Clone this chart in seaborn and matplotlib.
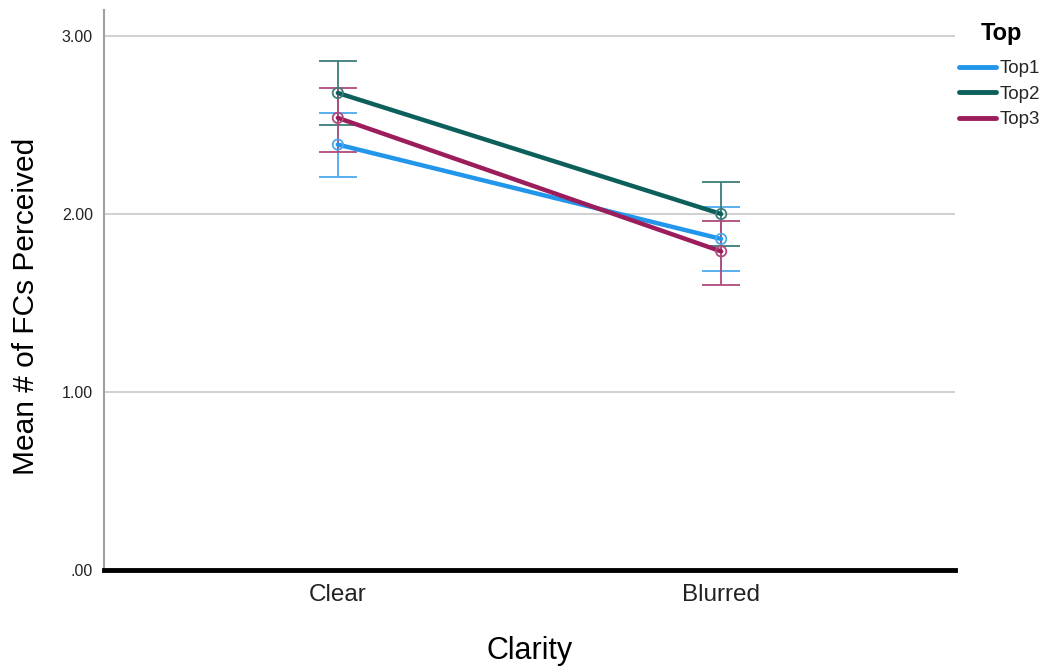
import matplotlib
matplotlib.use("Agg")
import matplotlib.pyplot as plt
import seaborn as sns
import pandas as pd
import numpy as np
from matplotlib.lines import Line2D

clarity = ["Clear", "Blurred"]
groups = ["Top1", "Top2", "Top3"]
top1_mean = [2.39, 1.86]
top2_mean = [2.68, 2.00]
top3_mean = [2.54, 1.79]
top1_lo = [2.21, 1.68]
top1_hi = [2.57, 2.04]
top2_lo = [2.50, 1.82]
top2_hi = [2.86, 2.18]
top3_lo = [2.35, 1.60]
top3_hi = [2.71, 1.96]
yticks = [0, 1, 2, 3]
ytick_labels = [".00", "1.00", "2.00", "3.00"]

colors = {"Top1": "#2196ea", "Top2": "#0c5f5a", "Top3": "#9c1d5c"}
err_colors = {"Top1": "#4aaaee", "Top2": "#3d7d79", "Top3": "#b04a7c"}
means = {"Top1": top1_mean, "Top2": top2_mean, "Top3": top3_mean}
los = {"Top1": top1_lo, "Top2": top2_lo, "Top3": top3_lo}
his = {"Top1": top1_hi, "Top2": top2_hi, "Top3": top3_hi}

rows = []
for g in groups:
    for i, c in enumerate(clarity):
        rows.append({"Clarity": c, "x": i, "Top": g, "mean": means[g][i]})
df = pd.DataFrame(rows)

sns.set_theme(style="white")
plt.rcParams['font.family'] = ['Liberation Sans', 'DejaVu Sans']

fig = plt.figure(figsize=(10.49, 6.72), dpi=100)
ax = fig.add_axes([104 / 1049, (672 - 570) / 672, (955 - 104) / 1049, (570 - 10) / 672])

for g in groups:
    m = np.array(means[g])
    lo = np.array(los[g])
    hi = np.array(his[g])
    ax.errorbar(np.arange(len(clarity)), m, yerr=[m - lo, hi - m], fmt="none",
                ecolor=err_colors[g], elinewidth=1.3, capsize=14, capthick=1.3, zorder=2)

sns.lineplot(data=df, x="x", y="mean", hue="Top", palette=colors, linewidth=3.2,
             ax=ax, legend=False, zorder=3)

for g in groups:
    sub = df[df["Top"] == g]
    ax.scatter(sub["x"], sub["mean"], s=55, facecolors="none",
               edgecolors=err_colors[g], linewidths=1.3, zorder=4)

for y in [1, 2, 3]:
    ax.axhline(y, color="#c8c8c8", linewidth=1.2, zorder=0)

ax.set_xlim(-0.61, 1.61)
ax.set_ylim(0, 3.146)
ax.set_xticks(range(len(clarity)))
ax.set_xticklabels(clarity, fontsize=17.5, color="#222222")
ax.set_yticks(yticks)
ax.set_yticklabels(ytick_labels, fontsize=11.5, color="#222222")
ax.tick_params(axis="both", length=0)
ax.tick_params(axis="x", pad=10)
ax.tick_params(axis="y", pad=8)
ax.set_xlabel("Clarity", fontsize=22, labelpad=22, color="black")
ax.set_ylabel("Mean # of FCs Perceived", fontsize=21.5, color="black")
ax.yaxis.set_label_coords(-0.075, 0.471)

for s in ["top", "right"]:
    ax.spines[s].set_visible(False)
ax.spines["left"].set_color("#a0a0a0")
ax.spines["left"].set_linewidth(1.5)
ax.spines["bottom"].set_color("black")
ax.spines["bottom"].set_linewidth(3.5)

handles = [Line2D([0], [0], color=colors[g], linewidth=3.5) for g in groups]
leg = fig.legend(handles, groups, title="Top", loc="upper left",
                 bbox_to_anchor=(942 / 1049, 1 - 5 / 672), frameon=False,
                 fontsize=13.5, handlelength=2.0, handletextpad=0.15, labelspacing=0.45,
                 title_fontproperties={"weight": "bold", "size": 17})
leg._legend_box.align = "left"
leg._legend_box.sep = 11
leg.get_title().set_position((22, 0))
leg.get_title().set_color("black")

fig.savefig("out.png", dpi=100)
